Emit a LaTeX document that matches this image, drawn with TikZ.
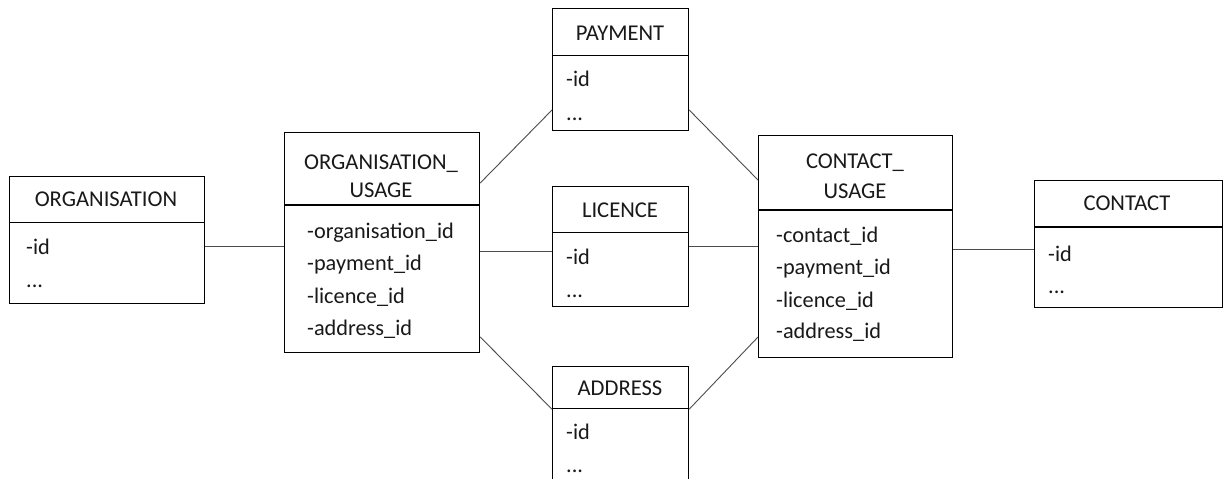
\documentclass[tikz,border=0pt]{standalone}
\usepackage{fontspec}
\setmainfont{Carlito}
\begin{document}
\begin{tikzpicture}[x=1pt,y=-1pt,
  box/.style={draw=black,line width=1.2pt,anchor=north west,inner sep=0pt,fill=white},
  sep/.style={draw=black,line width=2pt},
  hdr/.style={anchor=base,text=black!90,font=\fontsize{22.6}{27}\selectfont,inner sep=0pt},
  fld/.style={anchor=base west,text=black!90,font=\fontsize{22.3}{27}\selectfont,inner sep=0pt},
  link/.style={draw=black!70,line width=0.9pt}]
\clip (0,0) rectangle (1224,479);
\fill[white] (0,0) rectangle (1224,479);

\coordinate (r246) at (0,246);
\coordinate (r251) at (0,251);
\coordinate (r249) at (0,249);

% ORGANISATION
\node[box,minimum width=195pt,minimum height=46pt] (orgH) at (9,176) {};
\node[box,minimum width=195pt,minimum height=81pt] (orgB) at (9,222) {};
\node[hdr] (orgT) at (106,206) {ORGANISATION};
\node[fld] (orgF1) at (26,254) {-id};
\node[fld] (orgF2) at (26,287) {...};

% ORGANISATION_USAGE
\node[box,minimum width=195pt,minimum height=73pt] (ouH) at (284,132) {};
\node[box,minimum width=195pt,minimum height=147pt] (ouB) at (284,205) {};
\draw[sep] (ouB.north west) -- (ouB.north east);
\node[hdr] (ouT1) at (381,169) {ORGANISATION\_};
\node[hdr] (ouT2) at (381,197) {USAGE};
\node[fld] (ouF1) at (307,238) {-organisation\_id};
\node[fld] (ouF2) at (307,270) {-payment\_id};
\node[fld] (ouF3) at (307,303) {-licence\_id};
\node[fld] (ouF4) at (307,335) {-address\_id};

% PAYMENT
\node[box,minimum width=136pt,minimum height=47pt] (payH) at (552,8) {};
\node[box,minimum width=136pt,minimum height=75pt] (payB) at (552,55) {};
\node[hdr] (payT) at (620,40) {PAYMENT};
\node[fld] (payF1) at (566,86) {-id};
\node[fld] (payF2) at (566,120) {...};

% LICENCE
\node[box,minimum width=136pt,minimum height=46pt] (licH) at (552,186) {};
\node[box,minimum width=136pt,minimum height=74pt] (licB) at (552,232) {};
\node[hdr] (licT) at (620,217) {LICENCE};
\node[fld] (licF1) at (566,264) {-id};
\node[fld] (licF2) at (566,297) {...};

% ADDRESS
\node[box,minimum width=136pt,minimum height=42pt] (adrH) at (552,366) {};
\node[box,minimum width=136pt,minimum height=90pt] (adrB) at (552,408) {};
\node[hdr] (adrT) at (620,395) {ADDRESS};
\node[fld] (adrF1) at (566,439) {-id};
\node[fld] (adrF2) at (566,472) {...};

% CONTACT_USAGE
\node[box,minimum width=194pt,minimum height=75pt] (cuH) at (758,135) {};
\node[box,minimum width=194pt,minimum height=147pt] (cuB) at (758,210) {};
\draw[sep] (cuB.north west) -- (cuB.north east);
\node[hdr] (cuT1) at (855,168) {CONTACT\_};
\node[hdr] (cuT2) at (855,198) {USAGE};
\node[fld] (cuF1) at (776,242) {-contact\_id};
\node[fld] (cuF2) at (776,274) {-payment\_id};
\node[fld] (cuF3) at (776,307) {-licence\_id};
\node[fld] (cuF4) at (776,338) {-address\_id};

% CONTACT
\node[box,minimum width=188pt,minimum height=47pt] (conH) at (1034,180) {};
\node[box,minimum width=188pt,minimum height=80pt] (conB) at (1034,227) {};
\draw[sep] (conB.north west) -- (conB.north east);
\node[hdr] (conT) at (1127,210) {CONTACT};
\node[fld] (conF1) at (1048,261) {-id};
\node[fld] (conF2) at (1048,293) {...};

% relations
\draw[link] (orgB.east |- r246) -- (ouB.west |- r246);
\draw[link] (ouB.east |- r251) -- (licB.west |- r251);
\draw[link] (licB.east |- r246) -- (cuB.west |- r246);
\draw[link] (cuB.east |- r249) -- (conB.west |- r249);
\draw[link] ([yshift=-51pt]ouH.north east) -- ([yshift=-55pt]payB.north west);
\draw[link] ([yshift=-55pt]payB.north east) -- ([yshift=-45pt]cuH.north west);
\draw[link] ([yshift=-132pt]ouB.north east) -- (adrH.south west);
\draw[link] (adrH.south east) -- ([yshift=-127pt]cuB.north west);
\end{tikzpicture}
\end{document}
